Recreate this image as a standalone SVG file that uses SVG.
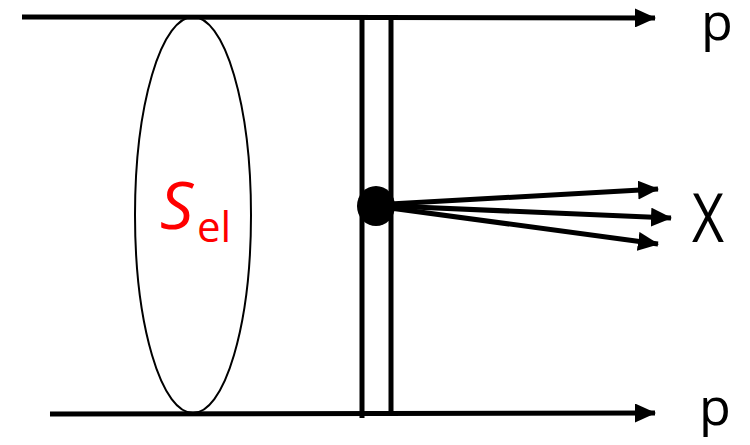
<svg xmlns="http://www.w3.org/2000/svg" width="750" height="445" viewBox="0 0 750 445">
<style>
.beam{stroke:#000;stroke-width:5;fill:none}
.rung{stroke:#000;stroke-width:5;fill:none}
.out{stroke:#000;stroke-width:5;fill:none}
.lbl{font-family:"Open Sans","Liberation Sans",sans-serif;fill:#000}
.red{font-family:"Open Sans","Liberation Sans",sans-serif;fill:#f00}
</style>
<defs>
<marker id="ah" markerWidth="4.2" markerHeight="3.8" refX="4" refY="1.9" orient="auto" markerUnits="strokeWidth">
<path d="M0,0 L4.2,1.9 L0,3.8 Z" fill="#000"/>
</marker>
</defs>
<g id="ellipse">
<ellipse cx="193" cy="215" rx="58" ry="198" fill="#fff" stroke="#000" stroke-width="2"/>
<text class="red" x="160" y="229" font-size="66" font-style="italic">S</text>
<text class="red" x="197" y="242" font-size="42">el</text>
</g>
<g id="connectors">
<line class="beam" x1="22" y1="17" x2="655" y2="18" marker-end="url(#ah)"/>
<line class="beam" x1="50" y1="414" x2="655" y2="413" marker-end="url(#ah)"/>
<line class="rung" x1="362" y1="19" x2="362" y2="418"/>
<line class="rung" x1="391" y1="19" x2="391" y2="413"/>
<line class="out" x1="390" y1="204" x2="658" y2="189" marker-end="url(#ah)"/>
<line class="out" x1="390" y1="206" x2="671" y2="218" marker-end="url(#ah)"/>
<line class="out" x1="390" y1="208" x2="658" y2="244" marker-end="url(#ah)"/>
</g>
<g id="vertex">
<ellipse cx="376" cy="206" rx="19" ry="20" fill="#000"/>
</g>
<g id="labels">
<text class="lbl" x="701" y="40" font-size="52">p</text>
<text class="lbl" x="699" y="425" font-size="52">p</text>
<text class="lbl" x="692" y="242" font-size="68" textLength="32" lengthAdjust="spacingAndGlyphs">X</text>
</g>
</svg>
